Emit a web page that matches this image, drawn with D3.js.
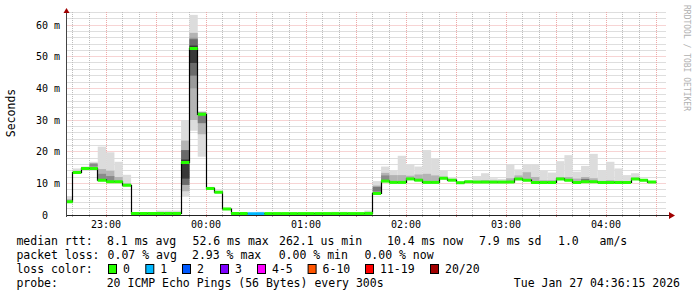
<!DOCTYPE html>
<html>
<head>
<meta charset="utf-8">
<script src="https://cdn.jsdelivr.net/npm/d3@7"></script>
<style>
  body { margin: 0; background: #fff; }
  text { font-family: "DejaVu Sans Mono", monospace; }
</style>
</head>
<body>
<div id="canvas"></div>
<script>
"use strict"

/* Configuration variables: drawing */
let svgWidth = 697;
let svgHeight = 297;
let plotLeft = 66.5;
let plotRight = 666.5;
let plotTop = 12;
let plotBottom = 215;

/* 5 minute bins, first one starts 22:35 UTC */
let firstBin = Date.UTC(2026, 0, 26, 22, 35, 0);
let binMs = 300 * 1000;

/* median rtt per bin (ms) */
let medianMs = [4.2, 13.4, 14.7, 14.7, 11.0, 10.5, 10.5, 9.4,
    0.5, 0.5, 0.5, 0.5, 0.5, 0.5,
    16.6, 52.6, 31.8, 8.4, 7.2, 1.9,
    0.45, 0.45, 0.4, 0.4, 0.45, 0.45, 0.45, 0.45, 0.45, 0.45, 0.45, 0.45, 0.45, 0.45, 0.45, 0.45, 0.5,
    6.8, 10.7, 10.3, 10.3, 11.4, 11.0, 10.3, 10.3, 11.6, 11.0, 10.2, 10.5, 10.4, 10.4, 10.4, 10.4, 10.4,
    11.4, 11.0, 10.3, 10.3, 10.3, 11.4, 11.0, 10.3, 10.5, 10.5, 10.3, 10.3, 10.3, 10.3, 11.4, 11.0, 10.4];

/* lost pings per bin (of 20) */
let lossCount = [0, 0, 0, 0, 0, 0, 0, 0, 0, 0, 0, 0, 0, 0, 0, 0, 0, 0, 0, 0,
    0, 0, 1, 1, 0, 0, 0, 0, 0, 0, 0, 0, 0, 0, 0, 0, 0,
    0, 0, 0, 0, 0, 0, 0, 0, 0, 0, 0, 0, 0, 0, 0, 0, 0,
    0, 0, 0, 0, 0, 0, 0, 0, 0, 0, 0, 0, 0, 0, 0, 0, 0];

/* smoke: outer range (min / max ping) */
let smokeLo = [3.8, 13.1, 14.4, 14.4, 10.7, 10.2, 10.2, 9.1,
    0, 0, 0, 0, 0, 0,
    6.0, 26.6, 18.4, 8.1, 6.9, 1.6,
    0, 0, 0, 0, 0, 0, 0, 0, 0, 0, 0, 0, 0, 0, 0, 0, 0,
    6.4, 10.4, 10.0, 10.0, 11.1, 10.7, 10.0, 10.0, 11.3, 10.7, 9.9, 10.2, 10.1, 10.1, 10.1, 10.1, 10.1,
    11.1, 10.7, 10.0, 10.0, 10.0, 11.1, 10.7, 10.0, 10.2, 10.2, 10.0, 10.0, 10.0, 10.0, 11.1, 10.7, 10.1];
let smokeHi = [6.0, 14.7, 15.3, 16.8, 21.6, 19.8, 16.8, 12.7,
    0.9, 0.9, 0.9, 1.4, 1.4, 1.4,
    30.0, 63.2, 32.8, 8.9, 7.7, 2.3,
    0.7, 0.7, 0.7, 1.0, 0.7, 0.7, 0.7, 0.7, 0.7, 0.7, 0.7, 0.7, 1.0, 1.0, 0.7, 0.7, 1.4,
    10.7, 15.3, 13.9, 18.7, 16.1, 15.3, 20.5, 17.9, 13.9, 11.5, 10.4, 10.9, 12.3, 13.2, 11.6, 11.4, 16.0,
    14.4, 16.0, 16.0, 13.9, 13.4, 17.0, 18.9, 13.7, 15.5, 19.3, 14.2, 16.8, 14.7, 12.6, 13.2, 11.3, 10.5];

/* smoke: middle pings */
let midLo = [3.8, 13.1, 14.4, 14.4, 10.7, 10.2, 10.2, 9.1,
    0, 0, 0, 0, 0, 0,
    7.5, 30.0, 25.5, 8.1, 6.9, 1.6,
    0, 0, 0, 0, 0, 0, 0, 0, 0, 0, 0, 0, 0, 0, 0, 0, 0,
    7.0, 10.4, 10.0, 10.0, 11.1, 10.7, 10.0, 10.0, 11.3, 10.7, 9.9, 10.2, 10.1, 10.1, 10.1, 10.1, 10.1,
    11.1, 10.7, 10.0, 10.0, 10.0, 11.1, 10.7, 10.0, 10.2, 10.2, 10.0, 10.0, 10.0, 10.0, 11.1, 10.7, 10.1];
let midHi = [5.0, 14.0, 15.0, 15.8, 14.5, 14.0, 12.0, 10.0,
    0.6, 0.6, 0.6, 0.8, 0.8, 0.6,
    23.5, 57.5, 32.5, 8.7, 7.5, 2.1,
    0.5, 0.5, 0.5, 0.5, 0.5, 0.5, 0.5, 0.5, 0.5, 0.5, 0.5, 0.5, 0.5, 0.5, 0.5, 0.5, 0.5,
    9.3, 13.3, 12.6, 12.6, 12.4, 12.8, 13.0, 12.5, 12.1, 11.4, 10.3, 10.7, 10.8, 11.0, 10.8, 10.7, 11.6,
    12.5, 13.5, 12.0, 11.0, 11.0, 12.0, 12.0, 11.5, 12.0, 11.6, 10.8, 11.0, 10.8, 10.7, 11.8, 11.2, 10.5];

/* smoke: darker inner bands (bin index, range, grey) */
let bandBin = [3, 4, 5, 14, 14, 15, 15, 15, 16, 37, 38, 62];
let bandLo = [15.3, 11.0, 10.5, 9.5, 11.5, 40.0, 44.0, 48.0, 29.0, 7.4, 11.0, 10.6];
let bandHi = [16.3, 13.0, 12.3, 20.5, 17.5, 56.0, 55.5, 53.5, 32.3, 8.9, 12.5, 11.4];
let bandGrey = ["#8a8a8a", "#8a8a8a", "#8a8a8a", "#6a6a6a", "#383838", "#9a9a9a", "#6a6a6a", "#383838", "#7a7a7a", "#7a7a7a", "#8a8a8a", "#777777"];

/* axis */
let yTickValues = [0, 10, 20, 30, 40, 50, 60];
let yTickLabels = ["0", "10 m", "20 m", "30 m", "40 m", "50 m", "60 m"];

/* loss legend */
let lossLabels = ["0", "1", "2", "3", "4-5", "6-10", "11-19", "20/20"];
let lossColors = ["#26ff00", "#00b8ff", "#0059ff", "#7e00ff", "#ff00ff", "#ff5500", "#ff0000", "#a10000"];

/* Create drawing canvas */
let svg = d3.select("#canvas")
    .append("svg")
    .attr("width", svgWidth)
    .attr("height", svgHeight)
    .style("display", "block");

svg.append("rect")
    .attr("width", svgWidth)
    .attr("height", svgHeight)
    .attr("fill", "#ffffff");

/* scales */
let xScale = d3.scaleUtc()
    .domain([Date.UTC(2026, 0, 26, 22, 36, 15), Date.UTC(2026, 0, 27, 4, 36, 15)])
    .range([plotLeft, plotRight]);

let yScale = d3.scaleLinear()
    .domain([0, 60])
    .range([plotBottom, 25]);

let crisp = v => Math.round(v - 0.5) + 0.5;

/* grid */
let grid = svg.append("g");
let yMax = yScale.invert(plotTop);
d3.range(2, yMax, 2).forEach(function (v) {
    let major = v % 10 === 0;
    grid.append("line")
        .attr("x1", plotLeft).attr("x2", plotRight)
        .attr("y1", crisp(yScale(v))).attr("y2", crisp(yScale(v)))
        .attr("stroke", major ? "#eea8a8" : "#bdbdbd")
        .attr("stroke-dasharray", "1,1");
});
xScale.ticks(d3.utcMinute.every(10)).forEach(function (t) {
    let major = t.getUTCMinutes() % 30 === 0;
    let x = crisp(xScale(t));
    grid.append("line")
        .attr("x1", x).attr("x2", x)
        .attr("y1", plotTop).attr("y2", plotBottom)
        .attr("stroke", major ? "#eea8a8" : "#bdbdbd")
        .attr("stroke-width", 1)
        .attr("stroke-dasharray", "1,1");
    grid.append("line")
        .attr("x1", x).attr("x2", x)
        .attr("y1", plotBottom).attr("y2", plotBottom + 2)
        .attr("stroke", major ? "#d08080" : "#aaa");
});

/* bins */
let bins = medianMs.map(function (m, i) {
    return {
        t0: new Date(firstBin + i * binMs),
        t1: new Date(firstBin + (i + 1) * binMs),
        median: m, loss: lossCount[i],
        lo: smokeLo[i], hi: smokeHi[i], mlo: midLo[i], mhi: midHi[i]
    };
});

svg.append("clipPath").attr("id", "plotclip")
    .append("rect")
    .attr("x", plotLeft).attr("y", 0)
    .attr("width", plotRight - plotLeft).attr("height", plotBottom);

let plot = svg.append("g").attr("clip-path", "url(#plotclip)");

/* smoke layers */
plot.selectAll("rect.smoke")
    .data(bins)
    .join("rect")
    .attr("class", "smoke")
    .attr("x", d => xScale(d.t0))
    .attr("width", d => xScale(d.t1) - xScale(d.t0))
    .attr("y", d => yScale(d.hi))
    .attr("height", d => yScale(d.lo) - yScale(d.hi))
    .attr("fill", "#dcdcdc");

plot.selectAll("rect.mid")
    .data(bins)
    .join("rect")
    .attr("class", "mid")
    .attr("x", d => xScale(d.t0))
    .attr("width", d => xScale(d.t1) - xScale(d.t0))
    .attr("y", d => yScale(d.mhi))
    .attr("height", d => yScale(d.mlo) - yScale(d.mhi))
    .attr("fill", "#b4b4b4");

plot.selectAll("rect.band")
    .data(bandBin)
    .join("rect")
    .attr("class", "band")
    .attr("x", i => xScale(bins[i].t0))
    .attr("width", i => xScale(bins[i].t1) - xScale(bins[i].t0))
    .attr("y", (i, j) => yScale(bandHi[j]))
    .attr("height", (i, j) => yScale(bandLo[j]) - yScale(bandHi[j]))
    .attr("fill", (i, j) => bandGrey[j]);

/* median: black step line, then loss coloured segments */
let stepPoints = bins.map(d => [d.t0, d.median]);
stepPoints.push([bins[bins.length - 1].t1, bins[bins.length - 1].median]);

let stepLine = d3.line()
    .x(d => crisp(xScale(d[0])))
    .y(d => yScale(d[1]))
    .curve(d3.curveStepAfter);

plot.append("path")
    .attr("d", stepLine(stepPoints))
    .attr("fill", "none")
    .attr("stroke", "#000")
    .attr("stroke-width", 1.2);

function lossColor(n) {
    if (n <= 0) return lossColors[0];
    if (n <= 3) return lossColors[n];
    if (n <= 5) return lossColors[4];
    if (n <= 10) return lossColors[5];
    if (n <= 19) return lossColors[6];
    return lossColors[7];
}

plot.selectAll("line.median")
    .data(bins)
    .join("line")
    .attr("class", "median")
    .attr("x1", d => xScale(d.t0))
    .attr("x2", d => xScale(d.t1))
    .attr("y1", d => yScale(d.median))
    .attr("y2", d => yScale(d.median))
    .attr("stroke", d => lossColor(d.loss))
    .attr("stroke-width", 3);

/* axes */
svg.append("line")
    .attr("x1", plotLeft).attr("x2", 672)
    .attr("y1", plotBottom + 0.5).attr("y2", plotBottom + 0.5)
    .attr("stroke", "#222");
svg.append("line")
    .attr("x1", plotLeft).attr("x2", plotLeft)
    .attr("y1", plotBottom + 2).attr("y2", 10)
    .attr("stroke", "#444");
svg.append("path")
    .attr("d", "M63.5,13 L69.5,13 L66.5,8 Z")
    .attr("fill", "#a00000");
svg.append("path")
    .attr("d", "M669,212 L669,219 L675,215.5 Z")
    .attr("fill", "#a00000");

/* y tick labels */
svg.selectAll("text.ylab")
    .data(yTickValues)
    .join("text")
    .attr("class", "ylab")
    .attr("x", 60)
    .attr("y", d => yScale(d) + 3.5)
    .attr("text-anchor", "end")
    .attr("font-size", "10px")
    .attr("fill", "#000")
    .text((d, i) => yTickLabels[i].indexOf("m") < 0 ? yTickLabels[i] + "\u00a0\u00a0" : yTickLabels[i]);

/* x tick labels */
svg.selectAll("text.xlab")
    .data(xScale.ticks(d3.utcHour.every(1)))
    .join("text")
    .attr("class", "xlab")
    .attr("x", d => xScale(d))
    .attr("y", 228)
    .attr("text-anchor", "middle")
    .attr("font-size", "10px")
    .text(d => d3.utcFormat("%H:%M")(d));

/* axis title */
svg.append("text")
    .attr("transform", "translate(14.5,113) rotate(-90)")
    .attr("text-anchor", "middle")
    .attr("font-size", "11.5px")
    .text("Seconds");

/* watermark */
svg.append("text")
    .attr("transform", "translate(684,5) rotate(90)")
    .attr("font-size", "8px")
    .attr("fill", "#b0b0b0")
    .text("RRDTOOL / TOBI OETIKER");

/* legend */
let legend = svg.append("g")
    .attr("font-size", "11.5px")
    .attr("fill", "#000");

function legendText(x, y, s, anchor) {
    legend.append("text")
        .attr("x", x).attr("y", y)
        .attr("text-anchor", anchor || "start")
        .text(s.replace(/ /g, "\u00a0"));
}

legendText(16.4, 245, "median rtt:");
legendText(107, 245, "8.1 ms avg");
legendText(192.5, 245, "52.6 ms max");
legendText(279, 245, "262.1 us min");
legendText(387, 245, "10.4 ms now");
legendText(479, 245, "7.9 ms sd");
legendText(558, 245, "1.0   am/s");

legendText(16.4, 259, "packet loss:");
legendText(107.6, 259, "0.07 % avg");
legendText(192, 259, "2.93 % max");
legendText(278.7, 259, "0.00 % min");
legendText(364.4, 259, "0.00 % now");

legendText(16.4, 273, "loss color:");
let boxX = [108, 145.3, 182, 220, 257, 307.6, 365, 430];
lossLabels.forEach(function (lab, i) {
    legend.append("rect")
        .attr("x", boxX[i] + 0.5).attr("y", 264.5)
        .attr("width", 8).attr("height", 9)
        .attr("fill", lossColors[i])
        .attr("stroke", "#000");
    legendText(boxX[i] + 15, 273, lab);
});

legendText(16.4, 287, "probe:");
legendText(106.7, 287, "20 ICMP Echo Pings (56 Bytes) every 300s");
legendText(680, 287, "Tue Jan 27 04:36:15 2026", "end");
</script>
</body>
</html>
